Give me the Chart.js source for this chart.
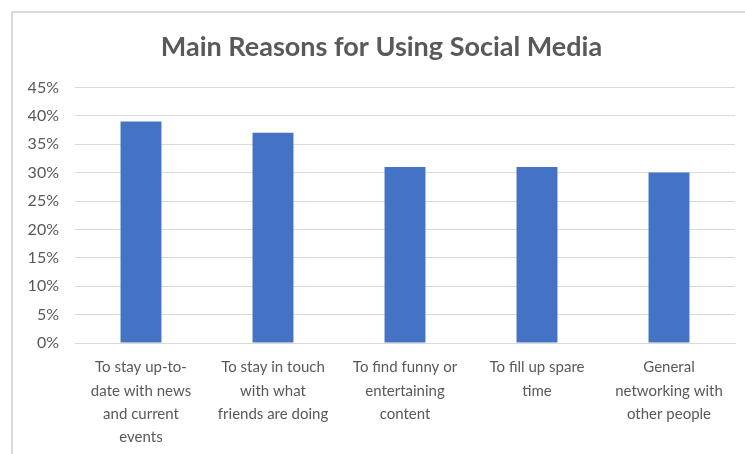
<!DOCTYPE html>
<html>
<head>
<meta charset="utf-8">
<script src="https://cdn.jsdelivr.net/npm/chart.js@4.4.1/dist/chart.umd.min.js"></script>
<style>
  html, body { margin: 0; padding: 0; background: #fff; overflow: hidden; }
  #frame {
    position: absolute; left: 11px; top: 11px;
    width: 760px; height: 460px;
    border: 2px solid #d9d9d9; box-sizing: border-box;
  }
  #wrap { position: absolute; left: 1px; top: 1px; width: 745px; height: 450px; }
</style>
</head>
<body>
<div id="frame"><div id="wrap"><canvas id="myChart"></canvas></div></div>
<script>
// データ
const categories = [
    ['To stay up-to-', 'date with news', 'and current', 'events'],
    ['To stay in touch', 'with what', 'friends are doing'],
    ['To find funny or', 'entertaining', 'content'],
    ['To fill up spare', 'time'],
    ['General', 'networking with', 'other people']
];
const shares = [39, 37, 31, 31, 30];
const yTicks = [0, 5, 10, 15, 20, 25, 30, 35, 40, 45];

document.addEventListener('DOMContentLoaded', () => {
    const ctx = document.getElementById('myChart').getContext('2d');
    const grey = '#595959';

    new Chart(ctx, {
        type: 'bar',
        data: {
            labels: categories,
            datasets: [{
                data: shares,
                backgroundColor: '#4472c4',
                categoryPercentage: 1,
                barPercentage: 0.31
            }]
        },
        options: {
            responsive: true,
            maintainAspectRatio: false,
            animation: false,
            layout: { padding: { left: 14, right: 24, top: 0, bottom: 10 } },
            plugins: {
                legend: { display: false },
                tooltip: { enabled: false },
                title: {
                    display: true,
                    text: 'Main Reasons for Using Social Media',
                    color: grey,
                    font: { family: 'Lato', size: 27, weight: 'bold' },
                    padding: { top: 17, bottom: 24 }
                }
            },
            scales: {
                x: {
                    grid: { display: false },
                    border: { color: '#d9d9d9', width: 1 },
                    ticks: {
                        color: grey,
                        maxRotation: 0,
                        autoSkip: false,
                        padding: 5,
                        font: { family: 'Lato', size: 15, lineHeight: 1.55 }
                    }
                },
                y: {
                    min: 0,
                    max: 45,
                    afterBuildTicks: (scale) => {
                        scale.ticks = yTicks.map(v => ({ value: v }));
                    },
                    afterFit: (scale) => { scale.width = 47; },
                    grid: { color: '#d9d9d9', lineWidth: 1, drawTicks: false },
                    border: { display: false },
                    ticks: {
                        color: grey,
                        padding: 16,
                        font: { family: 'Lato', size: 16 },
                        callback: (v) => v + '%'
                    }
                }
            }
        }
    });
});
</script>
</body>
</html>
